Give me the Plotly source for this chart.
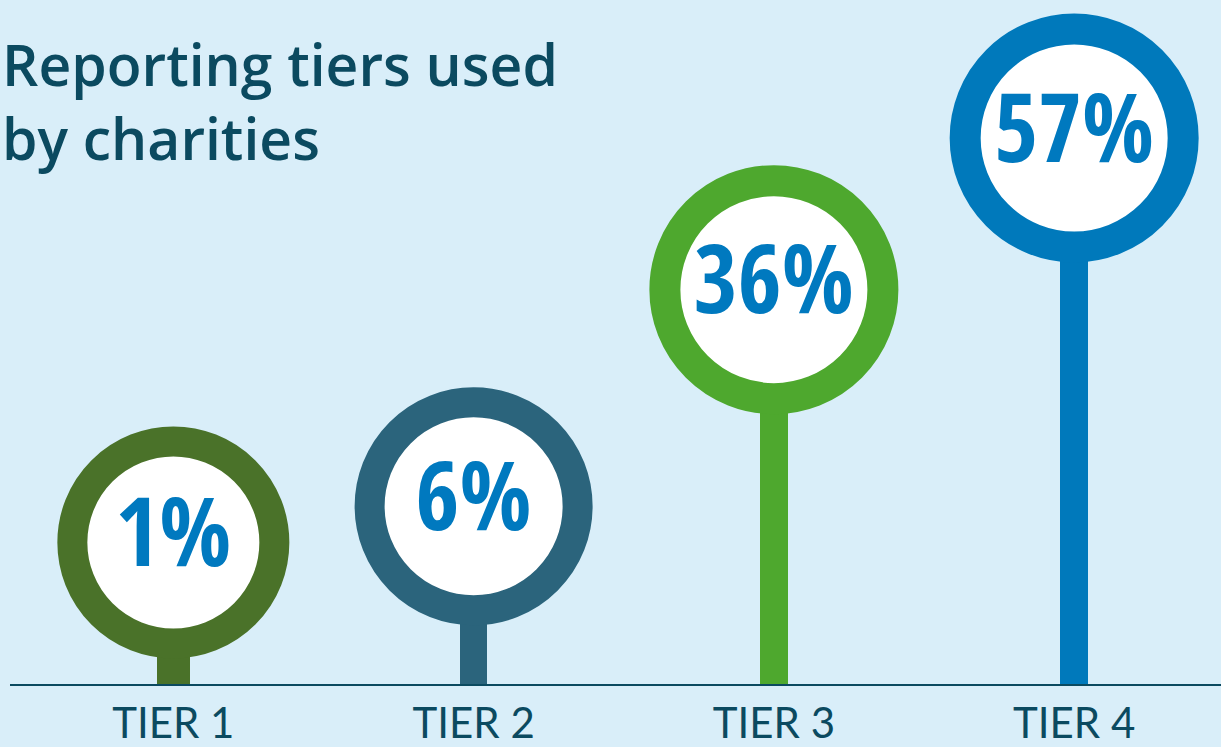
import plotly.graph_objects as go

# Data
tiers = ["TIER 1", "TIER 2", "TIER 3", "TIER 4"]
shares = [1, 6, 36, 57]
labels = ["1%", "6%", "36%", "57%"]
title_text = "Reporting tiers used<br>by charities"

# Style
ring_colors = ["#4a7229", "#2b647c", "#4ea82e", "#0079bb"]
marker_sizes = [202, 208, 218, 218]
ring_widths = [30, 30, 31, 31]
stem_widths = [0.112, 0.092, 0.092, 0.092]
bg = "#d9eef9"
dark = "#0b4a60"
pct_blue = "#0079bf"

y_min = -18.6
y_max = 76.1

fig = go.Figure()

fig.add_trace(go.Bar(
    x=tiers, y=[v - y_min for v in shares], base=y_min,
    width=stem_widths,
    marker=dict(color=ring_colors, line=dict(width=0)),
    hoverinfo="skip", showlegend=False,
))

fig.add_trace(go.Scatter(
    x=tiers, y=shares, mode="markers+text",
    text=labels, textposition="middle center",
    textfont=dict(family="Open Sans Condensed, Roboto Condensed, Roboto, sans-serif",
                  size=95, color=pct_blue, weight="bold"),
    marker=dict(size=marker_sizes, color="white",
                line=dict(color=ring_colors, width=ring_widths), opacity=1),
    cliponaxis=False, showlegend=False, hoverinfo="skip",
))

fig.add_annotation(
    text=title_text, xref="paper", yref="paper",
    x=-10 / 1211, y=1 - 23 / 684, xanchor="left", yanchor="top",
    align="left", showarrow=False,
    font=dict(family="Open Sans, Noto Sans, sans-serif", size=57, color=dark, weight=600),
)

fig.update_layout(
    width=1221, height=747,
    margin=dict(l=10, r=0, t=0, b=63, autoexpand=False),
    paper_bgcolor=bg, plot_bgcolor=bg,
    bargap=0,
    xaxis=dict(
        type="category", range=[-0.544, 3.489],
        showgrid=False, zeroline=False,
        showline=True, linecolor=dark, linewidth=2,
        ticks="", tickfont=dict(family="Lato, Noto Sans, sans-serif", size=42, color=dark),
        ticklabelstandoff=2, automargin=False,
        fixedrange=True,
    ),
    yaxis=dict(
        range=[y_min, y_max], visible=False, showgrid=False, zeroline=False,
        fixedrange=True, automargin=False,
    ),
)

fig.write_html("out.html")
